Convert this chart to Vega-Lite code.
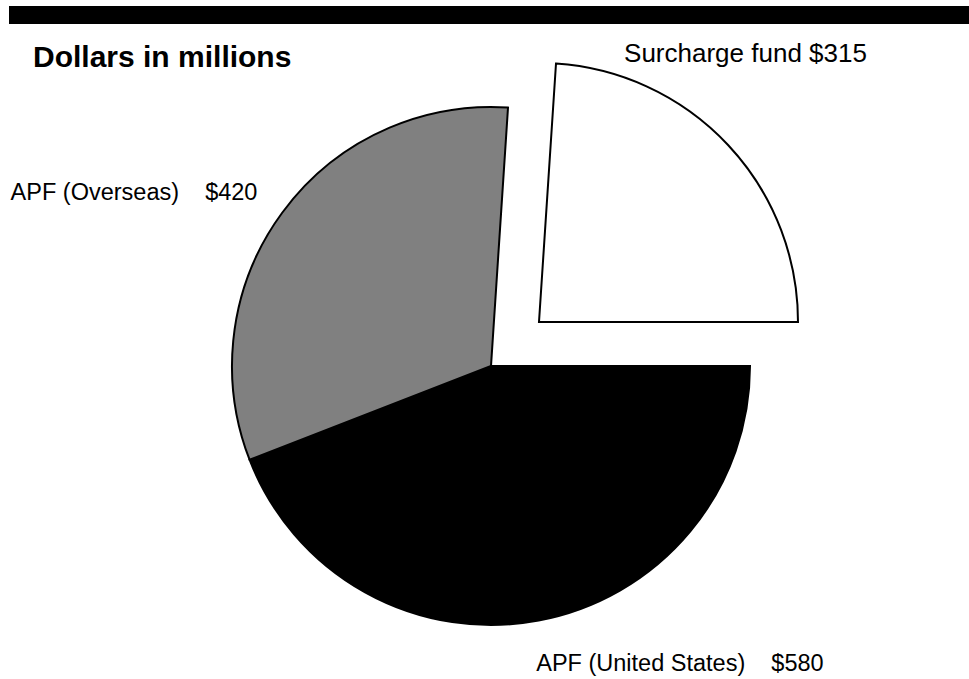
{
  "$schema": "https://vega.github.io/schema/vega-lite/v6.json",
  "background": "white",
  "padding": {"left": 9, "top": 6, "right": 0, "bottom": 0},
  "spacing": 16,
  "config": {"view": {"stroke": null}, "font": "Liberation Sans"},
  "datasets": {
    "funds": [
      {"fund": "APF (United States)", "amount": 580, "order": 1, "display": "APF (United States)\u00a0\u00a0\u00a0\u00a0$580"},
      {"fund": "APF (Overseas)", "amount": 420, "order": 2, "display": "APF (Overseas)\u00a0\u00a0\u00a0\u00a0$420"},
      {"fund": "Surcharge fund", "amount": 315, "order": 3, "display": "Surcharge fund $315"}
    ]
  },
  "vconcat": [
    {
      "width": 960,
      "height": 18,
      "view": {"fill": "black", "stroke": null},
      "data": {"values": [{}]},
      "mark": {"type": "point", "opacity": 0, "size": 1},
      "encoding": {}
    },
    {
      "width": 964,
      "height": 590,
      "title": {"text": "Dollars in millions", "anchor": "start", "frame": "group", "dx": 24, "offset": -56, "baseline": "alphabetic", "fontSize": 30, "fontWeight": "bold", "font": "Liberation Sans", "color": "black"},
      "data": {"name": "funds"},
      "encoding": {
        "theta": {"field": "amount", "type": "quantitative", "stack": true, "scale": {"range": [1.5707963, 7.8539816]}},
        "order": {"field": "order", "type": "ordinal"},
        "detail": {"field": "fund", "type": "nominal"}
      },
      "layer": [
        {
          "mark": {"type": "arc", "outerRadius": 259, "stroke": "black", "strokeWidth": 2},
          "encoding": {
            "color": {"field": "fund", "type": "nominal", "scale": {"domain": ["APF (United States)", "APF (Overseas)", "Surcharge fund"], "range": ["#000000", "#808080", "#ffffff"]}, "legend": null},
            "opacity": {"condition": {"test": "datum.fund === 'Surcharge fund'", "value": 0}, "value": 1}
          }
        },
        {
          "transform": [
            {"stack": "amount", "groupby": [], "sort": [{"field": "order", "order": "ascending"}], "as": ["a0", "a1"]},
            {"filter": "datum.fund === 'Surcharge fund'"}
          ],
          "mark": {"type": "arc", "outerRadius": 259, "stroke": "black", "strokeWidth": 2, "xOffset": 48, "yOffset": -44},
          "encoding": {
            "theta": {"field": "a0", "type": "quantitative"},
            "theta2": {"field": "a1"},
            "order": null,
            "color": {"field": "fund", "type": "nominal", "legend": null}
          }
        },
        {
          "mark": {"type": "text", "radius": 400, "dx": -37.5, "dy": -31, "fontSize": 26, "align": "center", "baseline": "alphabetic", "font": "Liberation Sans", "color": "black"},
          "encoding": {
            "text": {"condition": {"test": "datum.fund === 'Surcharge fund'", "field": "display", "type": "nominal"}, "value": ""}
          }
        },
        {
          "mark": {"type": "text", "radius": 400, "dx": -34.5, "dy": 71, "fontSize": 23.5, "align": "center", "baseline": "alphabetic", "font": "Liberation Sans", "color": "black"},
          "encoding": {
            "text": {"condition": {"test": "datum.fund === 'APF (Overseas)'", "field": "display", "type": "nominal"}, "value": ""}
          }
        },
        {
          "mark": {"type": "text", "radius": 320, "dx": 130, "dy": -9.5, "fontSize": 23.5, "align": "center", "baseline": "alphabetic", "font": "Liberation Sans", "color": "black"},
          "encoding": {
            "text": {"condition": {"test": "datum.fund === 'APF (United States)'", "field": "display", "type": "nominal"}, "value": ""}
          }
        }
      ]
    }
  ]
}
